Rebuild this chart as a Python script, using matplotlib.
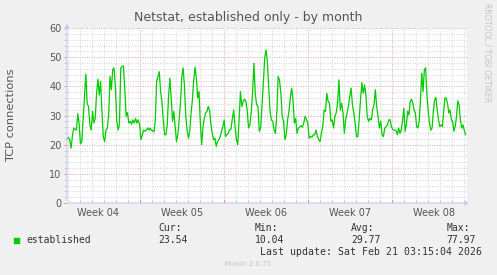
import matplotlib
matplotlib.use("Agg")
import matplotlib.pyplot as plt
import numpy as np

# Munin month graph: one px = 2 hours
seg1_hours = (0, 164)
seg1 = [22, 22.5, 21.7, 18.8, 22.8, 25.7, 25.3, 25, 30.6, 27.4, 20.3, 21, 28.5, 36.5,
        44.2, 34.2, 33, 26.8, 25, 31.4, 27.4, 29, 37.6, 42.5, 37, 41.7, 31.4, 22.8,
        21, 25, 25.7, 30.2, 43.4, 38.8, 45.7, 46.3, 40, 28.5, 25, 26.8, 46.3, 46.8,
        47, 38.8, 29.7, 31, 27.4, 28, 27, 28.5, 27.4, 29, 27.4, 28.5, 27, 21.7,
        23.4, 25, 24.6, 25, 25.7, 25]
seg2_hours = (166, 325)
seg2 = [25.7, 25, 24.8, 24.4, 28.5, 41.7, 43.4, 45, 38.2, 34.8, 28.5, 23.4, 23.4,
        26.8, 36.5, 42.8, 36, 28, 31.4, 26.2, 21, 23.4, 28.5, 34.2, 43.4, 46.3, 40,
        29.7, 25, 22.2, 24.6, 30.9, 35.4, 42.2, 46.6, 42.8, 36, 38.2, 27.4, 20, 26.2,
        29, 30.9, 31.4, 33.1, 31.7, 26.8, 23.9, 21.7, 22.2, 19.4, 21, 21.7, 22.8,
        24.6, 26.2, 28.5, 22.8, 23.4, 23.9, 25]
seg3_hours = (328, 487)
seg3 = [25.3, 29, 31.9, 26.2, 21.7, 20, 28.5, 38.2, 33.1, 34.8, 35.6, 34.8, 31.9,
        25.7, 26.8, 30.9, 37.6, 47.9, 37.6, 33.7, 33.1, 24.6, 25.7, 33.1, 41.1, 49.7,
        52.5, 48.5, 39.4, 31.4, 28.5, 28, 25, 23.9, 30.9, 43.4, 42.2, 37.6, 29.7, 28,
        21.7, 23.4, 28.5, 31.4, 35.9, 39.4, 35.4, 27.4, 29, 23.9, 25.7, 26, 26.5, 26,
        27.4, 29.7, 28.5, 27.4, 22.2, 22.8]
seg4_hours = (490, 649)
seg4 = [22.6, 23.4, 23.4, 25, 22.8, 21.7, 21.1, 23.9, 26.2, 31.9, 31.4, 37.6, 34.8,
        34.2, 28, 28.5, 25.7, 29.7, 30.9, 34.2, 42.2, 31.9, 34.2, 30.9, 23.9, 28.5,
        30.9, 33.1, 36.5, 39.4, 33.7, 30.9, 27.4, 22.8, 22.8, 28.5, 35.4, 41.3, 37.6,
        40.5, 37, 29.7, 28, 29, 28.5, 31.9, 33.7, 38.8, 33.1, 29.7, 25.7, 28, 23.4,
        22.8, 25.7, 26.2, 26.8, 28.5, 28.5, 26]
seg5_hours = (653, 797)
seg5 = [25, 25, 24.8, 23.4, 25.7, 23.9, 25, 28, 32.5, 24.6, 26.8, 31.4, 30.2, 34.8,
        35.6, 34.2, 31.9, 30.9, 26.2, 25.7, 28, 35.9, 44.5, 38.2, 45.7, 46.3, 37,
        31.4, 27.4, 25, 25.7, 31.4, 35.4, 36.2, 31.9, 28.5, 26.2, 26.8, 26.2, 30.9,
        36, 36, 34.2, 30.9, 31.9, 28.5, 28, 24.6, 26.2, 29.7, 35, 33.7, 28.5, 25.7,
        26.8, 25, 23.4]

week_labels = ["Week 04", "Week 05", "Week 06", "Week 07", "Week 08"]
week_starts = [-22, 146, 314, 482, 650, 818]  # hours on the x axis

legend_name = "established"
stat_names = ["Cur:", "Min:", "Avg:", "Max:"]
stat_values = ["23.54", "10.04", "29.77", "77.97"]
last_update = "Last update: Sat Feb 21 03:15:04 2026"

W, H = 497, 275
BG = "#f0f0f0"
TXT = "#555555"
GREEN = "#00cc00"


def fy(y):
    return 1 - y / H


def fx(x):
    return x / W


segments = [(seg1_hours, seg1), (seg2_hours, seg2), (seg3_hours, seg3),
            (seg4_hours, seg4), (seg5_hours, seg5)]
t = np.concatenate([np.linspace(h[0], h[1], len(v)) for h, v in segments])
vals = np.concatenate([np.array(v, dtype=float) for _, v in segments])

fig = plt.figure(figsize=(W / 100, H / 100), dpi=100, facecolor=BG)
ax = fig.add_axes([fx(67), fy(203), 400 / W, 175 / H])
ax.set_facecolor("white")

ax.set_xlim(0, 800)
ax.set_ylim(0, 60)

# grid: minor gray, major red-ish, dotted
for yv in np.arange(2, 60, 2):
    if yv % 10:
        ax.axhline(yv, color="#d4d4d4", lw=0.7, ls=(0, (1, 1.5)), zorder=1)
for yv in range(10, 61, 10):
    ax.axhline(yv, color="#eaa0a0", lw=0.7, ls=(0, (1, 1.5)), zorder=1)
for d in np.arange(2, 800, 24):
    if (d - 146) % 168:
        ax.axvline(d, color="#d4d4d4", lw=0.7, ls=(0, (1, 1.5)), zorder=1)
for w in week_starts[1:-1]:
    ax.axvline(w, color="#eaa0a0", lw=0.7, ls=(0, (1, 1.5)), zorder=1)

ax.plot(t, vals, color=GREEN, lw=0.9, zorder=3)

for s in ax.spines.values():
    s.set_visible(False)

ax.set_yticks(range(0, 61, 10))
ax.set_yticks(np.arange(0, 61, 2), minor=True)
ax.set_xticks(week_starts[1:-1])
ax.set_xticks([d for d in np.arange(2, 800, 24)], minor=True)
ax.set_xticklabels([])
ax.tick_params(axis="y", which="major", length=2, width=0.6, color="#e08080",
               labelsize=7, labelcolor=TXT, pad=2)
ax.tick_params(axis="y", which="minor", length=2, width=0.6, color="#c8c8c8")
ax.tick_params(axis="x", which="major", length=2, width=0.6, color="#e08080",
               direction="in")
ax.tick_params(axis="x", which="minor", length=2, width=0.6, color="#c8c8c8",
               direction="in")

for i, lab in enumerate(week_labels):
    mid = (week_starts[i] + week_starts[i + 1]) / 2
    ax.text(mid, -3.3, lab, ha="center", va="center", fontsize=7, color=TXT)

# axes with arrows, rrdtool style
axis_col = "#c8c8f0"
ax.annotate("", xy=(0, 1.04), xytext=(0, 0), xycoords="axes fraction",
            arrowprops=dict(arrowstyle="-|>", color=axis_col, lw=0.8,
                            mutation_scale=6), annotation_clip=False)
ax.annotate("", xy=(1.012, 0), xytext=(0, 0), xycoords="axes fraction",
            arrowprops=dict(arrowstyle="-|>", color=axis_col, lw=0.8,
                            mutation_scale=6), annotation_clip=False)

fig.text(0.5, fy(18), "Netstat, established only - by month", ha="center",
         va="center", fontsize=9, color=TXT)
fig.text(fx(11.5), fy(115.5), "TCP connections", rotation=90, ha="center",
         va="center", fontsize=8.2, color=TXT)
fig.text(fx(487.5), fy(53), "RRDTOOL / TOBI OETIKER", rotation=-90, ha="center",
         va="center", fontsize=5.6, color="#c4c4c4")

# legend block
fig.patches.append(plt.Rectangle((fx(14), fy(242.5)), 5 / W, 5 / H,
                                 transform=fig.transFigure, color=GREEN))
mono = "DejaVu Sans Mono"
fig.text(fx(26.5), fy(240), legend_name, ha="left", va="center", fontsize=7,
         color="#333333", family=mono)
for name, val, x in zip(stat_names, stat_values, [158.5, 255, 351, 446.5]):
    fig.text(fx(x), fy(228), name, ha="left", va="center", fontsize=7,
             color="#333333", family=mono)
    fig.text(fx(x), fy(240), val, ha="left", va="center", fontsize=7,
             color="#333333", family=mono)
fig.text(fx(482.5), fy(252), last_update, ha="right", va="center", fontsize=7.1,
         color="#333333", family=mono)
fig.text(fx(248), fy(264), "Munin 2.0.75", ha="center", va="center", fontsize=5,
         color="#c4c4c4")

fig.savefig("out.png", dpi=100, facecolor=BG)
